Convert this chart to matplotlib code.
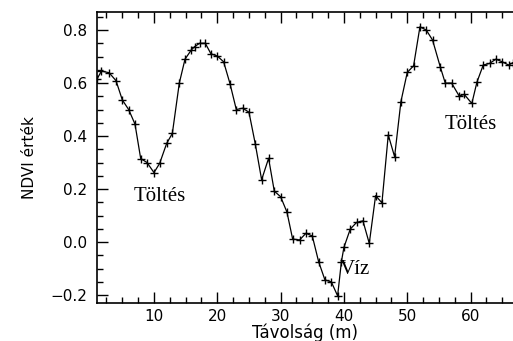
import matplotlib
matplotlib.use("Agg")
import matplotlib.pyplot as plt
from matplotlib.ticker import MultipleLocator

distance = [1.0, 1.7, 2.9, 4.0, 5.0, 6.0, 7.0, 7.9, 8.9, 10.0, 10.9, 12.0, 12.9,
            14.0, 14.9, 15.9, 16.4, 17.2, 18.1, 19.0, 20.0, 21.0, 22.0, 23.0,
            24.0, 25.0, 26.0, 27.0, 28.1, 29.0, 30.0, 31.0, 31.9, 33.0, 34.0,
            35.0, 36.0, 37.0, 38.0, 39.0, 39.6, 40.0, 41.0, 42.0, 43.0, 44.0,
            45.0, 46.0, 47.0, 48.0, 49.0, 50.0, 51.0, 52.0, 53.0, 54.0, 55.2,
            56.0, 57.0, 58.2, 59.0, 60.2, 61.0, 62.0, 63.0, 64.0, 65.0, 66.0, 66.7]
ndvi = [0.615, 0.645, 0.639, 0.609, 0.536, 0.50, 0.445, 0.315, 0.30, 0.262,
        0.297, 0.372, 0.41, 0.60, 0.69, 0.725, 0.737, 0.75, 0.75, 0.71, 0.702,
        0.68, 0.598, 0.50, 0.505, 0.49, 0.37, 0.235, 0.316, 0.192, 0.171,
        0.113, 0.011, 0.008, 0.033, 0.023, -0.074, -0.143, -0.15, -0.203,
        -0.074, -0.02, 0.049, 0.074, 0.08, -0.005, 0.175, 0.148, 0.404, 0.322,
        0.53, 0.64, 0.665, 0.812, 0.80, 0.762, 0.662, 0.60, 0.60, 0.551, 0.557,
        0.523, 0.603, 0.668, 0.674, 0.69, 0.68, 0.668, 0.677]

annotations = [("Töltés", 10.9, 0.172), ("Töltés", 60.1, 0.445), ("Víz", 41.7, -0.104)]

fig = plt.figure(figsize=(5.13, 3.41), dpi=100)
ax = fig.add_axes([97/513, 1 - 303/341, 1 - 97/513, (303 - 12)/341])

ax.plot(distance, ndvi, color="black", lw=0.9, marker="+", ms=6, mew=1.0)

ax.set_xlim(1.0, 66.7)
ax.set_ylim(-0.230, 0.868)
ax.xaxis.set_major_locator(MultipleLocator(10))
ax.xaxis.set_minor_locator(MultipleLocator(2.5))
ax.yaxis.set_major_locator(MultipleLocator(0.2))
ax.yaxis.set_minor_locator(MultipleLocator(0.05))
ax.tick_params(which="both", direction="in", top=True, right=False, labelsize=11,
               color="black", width=1)
ax.tick_params(which="major", length=8)
ax.tick_params(which="minor", length=4)
ax.tick_params(axis="y", pad=7)
ax.tick_params(axis="x", pad=4)
ax.spines["right"].set_visible(False)
for s in ["left", "bottom", "top"]:
    ax.spines[s].set_linewidth(1.2)

ax.set_yticks([-0.2, 0.0, 0.2, 0.4, 0.6, 0.8])
ax.set_yticklabels(["\u22120.2", "0.0", "0.2", "0.4", "0.6", "0.8"])

ax.set_xlabel("Távolság (m)", fontsize=12, labelpad=0)
ax.set_ylabel("NDVI érték", fontsize=11, labelpad=10)

for txt, x, y in annotations:
    ax.text(x, y, txt, fontsize=15, family="Liberation Serif", ha="center", va="center")

fig.savefig("out.png", dpi=100)
